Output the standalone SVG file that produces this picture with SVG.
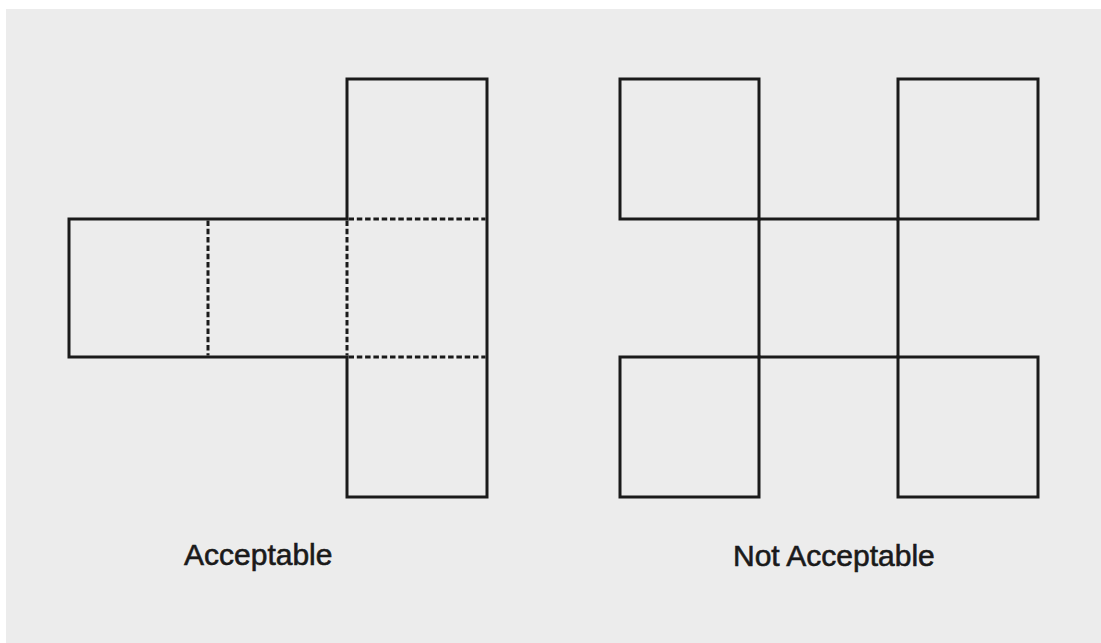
<svg xmlns="http://www.w3.org/2000/svg" width="1101" height="643" viewBox="0 0 1101 643">
  <style>
    .solid { fill: none; stroke: #1a1a1a; stroke-width: 3; stroke-linejoin: miter; }
    .dash { fill: none; stroke: #1a1a1a; stroke-width: 3; stroke-dasharray: 5.5 2.8; }
    .label { font-family: "Liberation Sans", Arial, sans-serif; font-size: 30px; fill: #1a1a1a; stroke: #1a1a1a; stroke-width: 0.6; }
  </style>
  <rect x="0" y="0" width="1101" height="643" fill="#ffffff"/>
  <rect x="6" y="9" width="1095" height="634" fill="#ececec"/>

  <g id="acceptable">
    <g id="acc-outline">
      <path class="solid" d="M69,219 H347 V79 H487 V497 H347 V357 H69 Z"/>
    </g>
    <g id="acc-folds">
      <path class="dash" d="M208,220.5 V355.5 M347,220.5 V355.5 M348.5,219 H485.5 M348.5,357 H485.5"/>
    </g>
    <text class="label" x="184" y="565">Acceptable</text>
  </g>

  <g id="not-acceptable">
    <g id="na-top-left"><rect class="solid" x="620" y="79" width="139" height="140"/></g>
    <g id="na-top-right"><rect class="solid" x="898" y="79" width="140" height="140"/></g>
    <g id="na-center"><rect class="solid" x="759" y="219" width="139" height="138"/></g>
    <g id="na-bottom-left"><rect class="solid" x="620" y="357" width="139" height="140"/></g>
    <g id="na-bottom-right"><rect class="solid" x="898" y="357" width="140" height="140"/></g>
    <text class="label" x="733" y="566">Not Acceptable</text>
  </g>
</svg>
